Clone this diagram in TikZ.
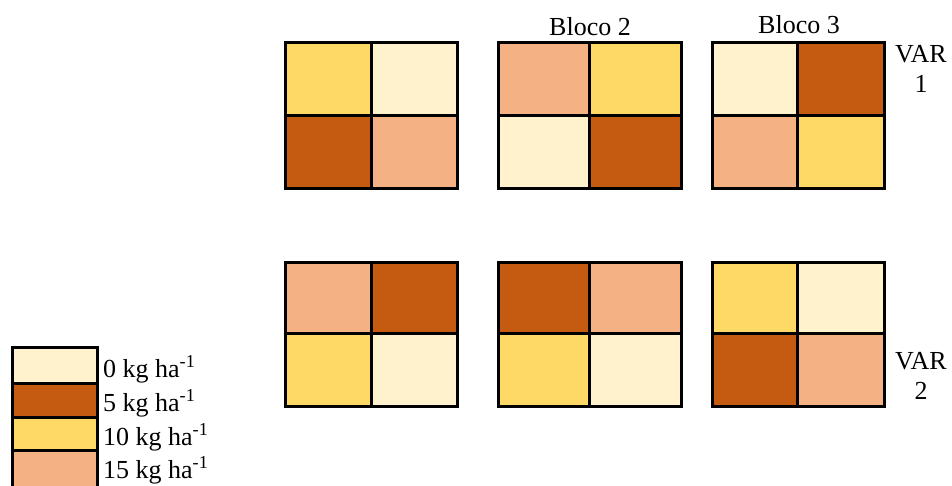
\documentclass[tikz,border=0pt]{standalone}
\usepackage{fontspec}
\setmainfont{Liberation Serif}
\usepackage{tikz}
\usepackage{xcolor}
\usetikzlibrary{positioning}
\definecolor{dose0}{HTML}{FFF2CC}
\definecolor{dose5}{HTML}{C55A11}
\definecolor{dose10}{HTML}{FFD966}
\definecolor{dose15}{HTML}{F4B183}

\begin{document}
\begin{tikzpicture}[x=1pt, y=-1pt,
    grade/.style={draw=black, line width=3pt},
    rotulo/.style={font=\fontsize{26}{30}\selectfont, inner sep=0pt}]
    % Page frame
    \clip (0,0) rectangle (952,485);

    % Plots: x0/xm/x1/y0/ym/y1 and colours TL/TR/BL/BR
    \foreach \xa/\xm/\xb/\ya/\ym/\yb/\ctl/\ctr/\cbl/\cbr in {
        285/371/457/42/115/188/dose10/dose0/dose5/dose15,
        498/589/681/42/115/188/dose15/dose10/dose0/dose5,
        712/797/884/42/115/188/dose0/dose5/dose15/dose10,
        285/371/457/262/333/406/dose15/dose5/dose10/dose0,
        498/589/681/262/333/406/dose5/dose15/dose10/dose0,
        712/797/884/262/333/406/dose10/dose0/dose5/dose15} {
        \fill[\ctl] (\xa,\ya) rectangle (\xm,\ym);
        \fill[\ctr] (\xm,\ya) rectangle (\xb,\ym);
        \fill[\cbl] (\xa,\ym) rectangle (\xm,\yb);
        \fill[\cbr] (\xm,\ym) rectangle (\xb,\yb);
        \draw[grade] (\xa,\ya) rectangle (\xb,\yb);
        \draw[grade] (\xm,\ya) -- (\xm,\yb);
        \draw[grade] (\xa,\ym) -- (\xb,\ym);
    }

    % Block labels
    \node[rotulo, anchor=base] (bloco2) at (590,35) {Bloco 2};
    \node[rotulo, anchor=base] (bloco3) at (799,33) {Bloco 3};

    % Variety labels (base = last line)
    \node[rotulo, anchor=base, align=center] (var1) at (921,92) {VAR\\1};
    \node[rotulo, anchor=base, align=center] (var2) at (921,399) {VAR\\2};

    % Legend
    \foreach \ya/\yb/\cor in {347/383/dose0, 383/417/dose5, 417/450/dose10, 450/495/dose15} {
        \draw[grade, fill=\cor] (12,\ya) rectangle (97,\yb);
    }
    \node[rotulo, anchor=base west] (leg0) at (103,377) {0 kg ha\textsuperscript{-1}};
    \node[rotulo, anchor=base west] (leg5) at (103,411) {5 kg ha\textsuperscript{-1}};
    \node[rotulo, anchor=base west] (leg10) at (103,445) {10 kg ha\textsuperscript{-1}};
    \node[rotulo, anchor=base west] (leg15) at (103,478) {15 kg ha\textsuperscript{-1}};
\end{tikzpicture}
\end{document}
